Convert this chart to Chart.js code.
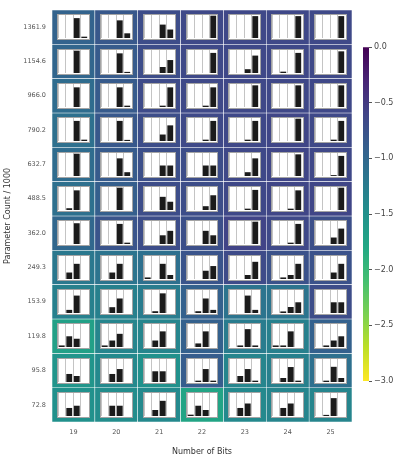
<!DOCTYPE html>
<html>
<head>
<meta charset="utf-8">
<script src="https://cdn.jsdelivr.net/npm/chart.js@4.4.1/dist/chart.umd.min.js"></script>
<style>
  html, body { margin: 0; padding: 0; background: #fff; }
  #wrap { position: relative; width: 399px; height: 458px; }
  #main { position: absolute; left: 0; top: 0; }
  #cbar { position: absolute; left: 355px; top: 0; }
  .inset { position: absolute; box-sizing: border-box; background: #fff; border: 1.5px solid #a4a4a4; }
  .inset canvas { display: block; }
</style>
</head>
<body>
<div id="wrap">
  <canvas id="main" width="399" height="458"></canvas>
  <canvas id="cbar" width="44" height="458"></canvas>
</div>
<script>
// bit widths on the x axis, parameter counts (top row first) on the y axis
const bits = ["19", "20", "21", "22", "23", "24", "25"];
const paramCounts = ["1361.9", "1154.6", "966.0", "790.2", "632.7", "488.5",
                     "362.0", "249.3", "153.9", "119.8", "95.8", "72.8"];

// cell colour value (colorbar scale -3 .. 0), one row per parameter count
const heat = [
  [-0.95, -0.82, -0.70, -0.66, -0.64, -0.64, -0.66],
  [-0.98, -0.85, -0.70, -0.66, -0.64, -0.64, -0.66],
  [-1.05, -0.85, -0.68, -0.66, -0.64, -0.64, -0.64],
  [-1.10, -0.82, -0.70, -0.66, -0.64, -0.62, -0.66],
  [-1.05, -0.85, -0.72, -0.70, -0.64, -0.62, -0.64],
  [-1.10, -0.90, -0.70, -0.70, -0.64, -0.62, -0.62],
  [-1.00, -0.78, -0.70, -0.72, -0.60, -0.66, -0.72],
  [-1.20, -1.15, -1.10, -0.78, -0.68, -0.75, -0.75],
  [-1.30, -1.30, -1.25, -0.92, -1.15, -1.15, -0.70],
  [-1.70, -1.35, -1.35, -0.92, -1.25, -1.30, -0.92],
  [-1.55, -1.40, -1.50, -0.88, -1.35, -1.30, -1.10],
  [-1.50, -1.45, -1.40, -1.75, -1.40, -1.35, -1.35]
];

// inset bars: share in each of the 4 slots, one entry per bit width
const slots = ["1", "2", "3", "4"];
const shares_1361_9 = [[0,0,0.89,0.06],[0,0,0.79,0.21],[0,0,0.60,0.38],[0,0,0,1.0],[0,0,0,0.98],[0,0,0,0.98],[0,0,0,0.98]];
const shares_1154_6 = [[0,0,1.0,0],[0,0,0.88,0.05],[0,0,0.27,0.58],[0,0,0,0.90],[0,0,0.17,0.78],[0,0.06,0,0.90],[0,0,0,0.97]];
const shares_966_0  = [[0,0,0.88,0],[0,0,0.88,0.06],[0,0,0.06,0.88],[0,0,0.06,0.88],[0,0,0,0.97],[0,0,0,0.97],[0,0,0,0.97]];
const shares_790_2  = [[0,0,0.90,0.06],[0,0,0.90,0.05],[0,0,0.29,0.70],[0,0,0.06,0.90],[0,0,0.06,0.90],[0,0,0,1.0],[0,0,0.06,0.90]];
const shares_632_7  = [[0,0,1.0,0],[0,0,0.79,0.17],[0,0,0.47,0.47],[0,0,0.47,0.47],[0,0,0.17,0.79],[0,0,0,0.97],[0,0,0.04,0.90]];
const shares_488_5  = [[0,0.08,0.88,0],[0,0,1.0,0],[0,0,0.59,0.37],[0,0,0.17,0.66],[0,0,0.06,0.90],[0,0,0.06,0.88],[0,0,0,1.0]];
const shares_362_0  = [[0,0,0.93,0],[0,0,0.90,0.06],[0,0,0.39,0.59],[0,0,0.59,0.39],[0,0,0,1.0],[0,0,0.06,0.90],[0,0,0.29,0.69]];
const shares_249_3  = [[0,0.29,0.68,0],[0,0.29,0.68,0],[0.07,0,0.68,0.18],[0,0,0.37,0.58],[0,0,0.18,0.77],[0,0.07,0.18,0.68],[0,0,0.29,0.68]];
const shares_153_9  = [[0,0.14,0.78,0],[0,0.26,0.65,0],[0,0.08,0.88,0],[0,0.08,0.65,0.14],[0,0,0.78,0.14],[0,0.07,0.27,0.48],[0,0,0.48,0.48]];
const shares_119_8  = [[0.07,0.48,0.37,0],[0.07,0.29,0.59,0],[0,0.29,0.70,0],[0,0.16,0.70,0],[0,0.07,0.80,0.07],[0.07,0.07,0.70,0],[0,0.07,0.29,0.48]];
const shares_95_8   = [[0,0.36,0.27,0],[0,0.36,0.58,0],[0,0.48,0.48,0],[0,0.06,0.58,0.06],[0,0.27,0.58,0.06],[0,0.18,0.67,0.06],[0,0.06,0.68,0.18]];
const shares_72_8   = [[0,0.36,0.46,0],[0,0.46,0.46,0],[0,0.27,0.68,0],[0.06,0.46,0.27,0],[0,0.36,0.56,0],[0,0.36,0.56,0],[0,0.05,0.80,0]];
const shareRows = [shares_1361_9, shares_1154_6, shares_966_0, shares_790_2, shares_632_7, shares_488_5,
                   shares_362_0, shares_249_3, shares_153_9, shares_119_8, shares_95_8, shares_72_8];

const vmin = -3, vmax = 0;

// viridis, reversed so that 0 is dark purple and -3 is yellow
const viridis = ["#440154", "#482475", "#414487", "#355f8d", "#2a788e", "#21918c",
                 "#22a884", "#44bf70", "#7ad151", "#bddf26", "#fde725"];

function hexRgb(h) {
  return [parseInt(h.slice(1, 3), 16), parseInt(h.slice(3, 5), 16), parseInt(h.slice(5, 7), 16)];
}

function colorFor(v) {
  let t = (vmax - v) / (vmax - vmin);
  t = Math.min(1, Math.max(0, t)) * (viridis.length - 1);
  const i = Math.min(viridis.length - 2, Math.floor(t));
  const f = t - i;
  const a = hexRgb(viridis[i]), b = hexRgb(viridis[i + 1]);
  const c = a.map((x, k) => Math.round(x + (b[k] - x) * f));
  return `rgb(${c[0]}, ${c[1]}, ${c[2]})`;
}

Chart.defaults.font.family = "'DejaVu Sans', sans-serif";
Chart.defaults.color = "#444";

const nRows = paramCounts.length;

// one floating-bar dataset per row -> heatmap cells
const datasets = paramCounts.map((p, r) => {
  const yBase = nRows - 1 - r;
  return {
    label: p,
    data: heat[r].map(() => [yBase, yBase + 1]),
    backgroundColor: heat[r].map(v => colorFor(v)),
    borderColor: "rgba(255,255,255,0.85)",
    borderWidth: 0.6,
    borderSkipped: false,
    barPercentage: 1,
    categoryPercentage: 1,
    grouped: false
  };
});

const mainChart = new Chart(document.getElementById("main"), {
  type: "bar",
  data: { labels: bits, datasets },
  options: {
    responsive: false,
    animation: false,
    events: [],
    layout: { padding: { top: 6, right: 47, left: 0, bottom: 0 } },
    plugins: { legend: { display: false }, tooltip: { enabled: false } },
    scales: {
      x: {
        grid: { display: false, drawTicks: false },
        border: { display: false },
        ticks: { padding: 6, color: "#555", font: { size: 6.5 } },
        title: { display: true, text: "Number of Bits", color: "#333", font: { size: 8 }, padding: { top: 0, bottom: 1 } },
        afterFit: s => { s.height = 36; }
      },
      y: {
        min: 0,
        max: nRows,
        grid: { display: false, drawTicks: false },
        border: { display: false },
        afterBuildTicks: s => { s.ticks = paramCounts.map((_, i) => ({ value: i + 0.5 })); },
        ticks: {
          padding: 6,
          color: "#555",
          font: { size: 6.5 },
          callback: v => paramCounts[nRows - 1 - Math.floor(v)]
        },
        title: { display: true, text: "Parameter Count / 1000", color: "#333", font: { size: 8 }, padding: { top: 3, bottom: 0 } },
        afterFit: s => { s.width = 52; }
      }
    }
  }
});

// small bar chart inside every cell
const wrap = document.getElementById("wrap");
const xs = mainChart.scales.x, ys = mainChart.scales.y;
const cellW = xs.width / bits.length;

paramCounts.forEach((p, r) => {
  const yBase = nRows - 1 - r;
  const top = ys.getPixelForValue(yBase + 1);
  const bottom = ys.getPixelForValue(yBase);
  bits.forEach((b, c) => {
    const left = xs.getPixelForValue(c) - cellW / 2;
    const box = document.createElement("div");
    box.className = "inset";
    const bx = left + 5, by = top + 4.5;
    const bw = cellW - 10, bh = (bottom - top) - 8.5;
    box.style.left = bx + "px";
    box.style.top = by + "px";
    box.style.width = bw + "px";
    box.style.height = bh + "px";
    const cv = document.createElement("canvas");
    cv.width = Math.round(bw - 3);
    cv.height = Math.round(bh - 3);
    box.appendChild(cv);
    wrap.appendChild(box);

    new Chart(cv, {
      type: "bar",
      data: {
        labels: slots,
        datasets: [{
          data: shareRows[r][c],
          backgroundColor: "#1b1b1b",
          borderWidth: 0,
          barPercentage: 0.78,
          categoryPercentage: 1
        }]
      },
      options: {
        responsive: false,
        animation: false,
        events: [],
        layout: { padding: 0 },
        plugins: { legend: { display: false }, tooltip: { enabled: false } },
        scales: {
          x: {
            grid: { offset: true, color: "#c4c4c4", lineWidth: 1, drawTicks: false },
            border: { display: false },
            ticks: { display: false }
          },
          y: { display: false, min: 0, max: 1.03 }
        }
      }
    });
  });
});

// colorbar
new Chart(document.getElementById("cbar"), {
  type: "bar",
  data: {
    labels: [""],
    datasets: [{
      data: [[vmin, vmax]],
      backgroundColor: c => {
        const { ctx, chartArea } = c.chart;
        if (!chartArea) return null;
        const g = ctx.createLinearGradient(0, chartArea.top, 0, chartArea.bottom);
        viridis.forEach((col, i) => g.addColorStop(i / (viridis.length - 1), col));
        return g;
      },
      borderWidth: 0,
      barPercentage: 1,
      categoryPercentage: 1
    }]
  },
  options: {
    responsive: false,
    animation: false,
    events: [],
    layout: { padding: { top: 47, bottom: 77, left: 8, right: 0 } },
    plugins: { legend: { display: false }, tooltip: { enabled: false } },
    scales: {
      x: { display: false },
      y: {
        position: "right",
        min: vmin,
        max: vmax,
        grid: { drawOnChartArea: false, drawTicks: true, tickLength: 3, color: "#555" },
        border: { display: false },
        ticks: {
          stepSize: 0.5,
          padding: 2,
          color: "#444",
          font: { size: 8 },
          callback: v => (v === 0 ? "0.0" : "\u2212" + Math.abs(v).toFixed(1))
        },
        afterFit: s => { s.width = 30; }
      }
    }
  }
});
</script>
</body>
</html>
